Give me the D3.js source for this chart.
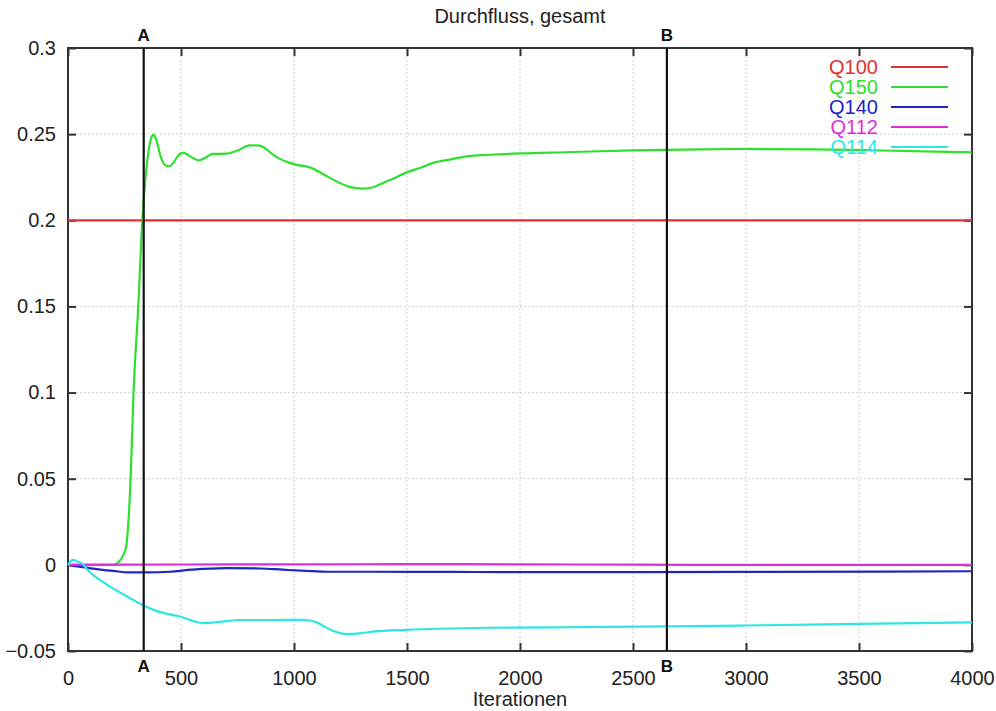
<!DOCTYPE html>
<html><head><meta charset="utf-8">
<script src="https://cdn.jsdelivr.net/npm/d3@7"></script>
<style>body{margin:0;background:#fff}svg{display:block;font-family:"Liberation Sans",Arial,sans-serif}</style>
</head><body>
<script>
const title = "Durchfluss, gesamt";
const xLabel = "Iterationen";
const xTicks = [0,500,1000,1500,2000,2500,3000,3500,4000];
const yTicks = [-0.05,0,0.05,0.1,0.15,0.2,0.25,0.3];
const markers = [{label:"A", x:335},{label:"B", x:2650}];

const q100X = [0, 4000];
const q100Y = [0.2, 0.2];

const q150X = [0,100,200,221,243,258,265,277,290,311,329,344,360,372,379,390,410,430,447,470,490,509,530,555,578,610,641,700,750,804,848,880,907,940,981,1020,1070,1120,1173,1246,1305,1350,1394,1450,1498,1560,1616,1700,1763,1830,1910,2000,2200,2500,2800,3003,3300,3600,4000];
const q150Y = [0,0,0,0.0014,0.0052,0.011,0.0207,0.0497,0.1,0.15,0.2,0.226,0.243,0.249,0.2497,0.247,0.237,0.232,0.2313,0.234,0.238,0.2391,0.238,0.236,0.2348,0.2365,0.2385,0.2387,0.2405,0.2435,0.2433,0.241,0.2381,0.2355,0.2333,0.232,0.2307,0.2275,0.2236,0.2194,0.2184,0.2192,0.2217,0.2248,0.2278,0.2305,0.2333,0.2355,0.2371,0.2378,0.2383,0.2388,0.2395,0.2406,0.2412,0.2414,0.2412,0.2405,0.2394];

const q140X = [0,100,200,273,350,450,550,700,850,950,1055,1150,1350,2000,3000,4000];
const q140Y = [0,-0.002,-0.0035,-0.0044,-0.0044,-0.004,-0.0028,-0.0019,-0.0021,-0.0028,-0.0035,-0.004,-0.004,-0.0042,-0.0041,-0.0037];

const q112X = [0,500,1000,1500,2000,2500,3000,3500,4000];
const q112Y = [0,0.0002,0.0003,0.0004,0.0003,0.0001,0,0,0];

const q114X = [0,22,40,65,81,169,243,332,391,494,597,680,760,900,1038,1070,1099,1140,1172,1200,1232,1290,1349,1498,1866,2200,2648,3000,3500,4000];
const q114Y = [0,0.0029,0.002,0.0005,-0.0021,-0.0112,-0.017,-0.0234,-0.0267,-0.030,-0.0338,-0.0330,-0.0320,-0.0320,-0.0319,-0.0323,-0.0334,-0.0362,-0.0382,-0.0395,-0.0402,-0.0398,-0.0388,-0.0377,-0.0365,-0.0362,-0.0357,-0.0352,-0.0342,-0.0334];

const seriesNames = ["Q100","Q150","Q140","Q112","Q114"];
const seriesColors = ["#e0302f","#2ee02e","#2424c4","#dd2edd","#2ee6e6"];
const seriesX = [q100X,q150X,q140X,q112X,q114X];
const seriesY = [q100Y,q150Y,q140Y,q112Y,q114Y];

const W = 996, H = 711;
const L = 68, R = 972, T = 48, B = 651;
const svg = d3.select("body").append("svg").attr("width",W).attr("height",H);
const x = d3.scaleLinear().domain([0,4000]).range([L,R]);
const y = d3.scaleLinear().domain([-0.05,0.3]).range([B,T]);

// grid
const g = svg.append("g");
g.selectAll(".gx").data(xTicks.slice(1,-1)).join("line")
  .attr("x1",d=>x(d)).attr("x2",d=>x(d)).attr("y1",T).attr("y2",B)
  .attr("stroke","#d0d0d0").attr("stroke-dasharray","2,2").attr("stroke-width",1);
g.selectAll(".gy").data(yTicks.slice(1,-1)).join("line")
  .attr("y1",d=>y(d)).attr("y2",d=>y(d)).attr("x1",L).attr("x2",R)
  .attr("stroke","#d0d0d0").attr("stroke-dasharray","2,2").attr("stroke-width",1);

// axes
const fmtY = d => d3.format("")(+d.toFixed(2));
const axL = svg.append("g").attr("transform",`translate(${L},0)`)
  .call(d3.axisLeft(y).tickValues(yTicks).tickSize(-8).tickPadding(12).tickFormat(fmtY));
const axR = svg.append("g").attr("transform",`translate(${R},0)`)
  .call(d3.axisRight(y).tickValues(yTicks).tickSize(-8).tickFormat(""));
const axB = svg.append("g").attr("transform",`translate(0,${B})`)
  .call(d3.axisBottom(x).tickValues(xTicks).tickSize(-8).tickPadding(20).tickFormat(d3.format("d")));
const axT = svg.append("g").attr("transform",`translate(0,${T})`)
  .call(d3.axisTop(x).tickValues(xTicks).tickSize(-8).tickFormat(""));
[axL,axR,axB,axT].forEach(a=>{
  a.selectAll(".domain").remove();
  a.selectAll("line").attr("stroke","#333").attr("stroke-width",2);
  a.selectAll("text").attr("font-size",20).attr("fill","#222").attr("font-family","Liberation Sans, Arial, sans-serif");
});

// frame
svg.append("rect").attr("x",L).attr("y",T).attr("width",R-L).attr("height",B-T)
  .attr("fill","none").attr("stroke","#333").attr("stroke-width",2);

// series
const line = d3.line().x(d=>x(d[0])).y(d=>y(d[1])).curve(d3.curveMonotoneX);
seriesNames.forEach((n,i)=>{
  const pts = seriesX[i].map((v,j)=>[v,seriesY[i][j]]);
  svg.append("path").datum(pts).attr("d",line).attr("fill","none")
    .attr("stroke",seriesColors[i]).attr("stroke-width",2.2);
});

// markers
markers.forEach(m=>{
  svg.append("line").attr("x1",x(m.x)).attr("x2",x(m.x)).attr("y1",T).attr("y2",B)
    .attr("stroke","#111").attr("stroke-width",2.2);
  svg.append("text").attr("x",x(m.x)).attr("y",41).attr("text-anchor","middle")
    .attr("font-size",17).attr("font-weight","bold").attr("fill","#111").text(m.label);
  svg.append("text").attr("x",x(m.x)).attr("y",672).attr("text-anchor","middle")
    .attr("font-size",17).attr("font-weight","bold").attr("fill","#111").text(m.label);
});

// legend
seriesNames.forEach((n,i)=>{
  const yy = 67 + i*20;
  svg.append("text").attr("x",878).attr("y",yy).attr("dy","0.35em").attr("text-anchor","end")
    .attr("font-size",20).attr("fill",seriesColors[i]).text(n);
  svg.append("line").attr("x1",891).attr("x2",948).attr("y1",yy).attr("y2",yy)
    .attr("stroke",seriesColors[i]).attr("stroke-width",2);
});

// titles
svg.append("text").attr("x",520).attr("y",23).attr("text-anchor","middle")
  .attr("font-size",20).attr("fill","#222").text(title);
svg.append("text").attr("x",520).attr("y",706).attr("text-anchor","middle")
  .attr("font-size",20).attr("fill","#222").text(xLabel);
</script>
</body></html>
